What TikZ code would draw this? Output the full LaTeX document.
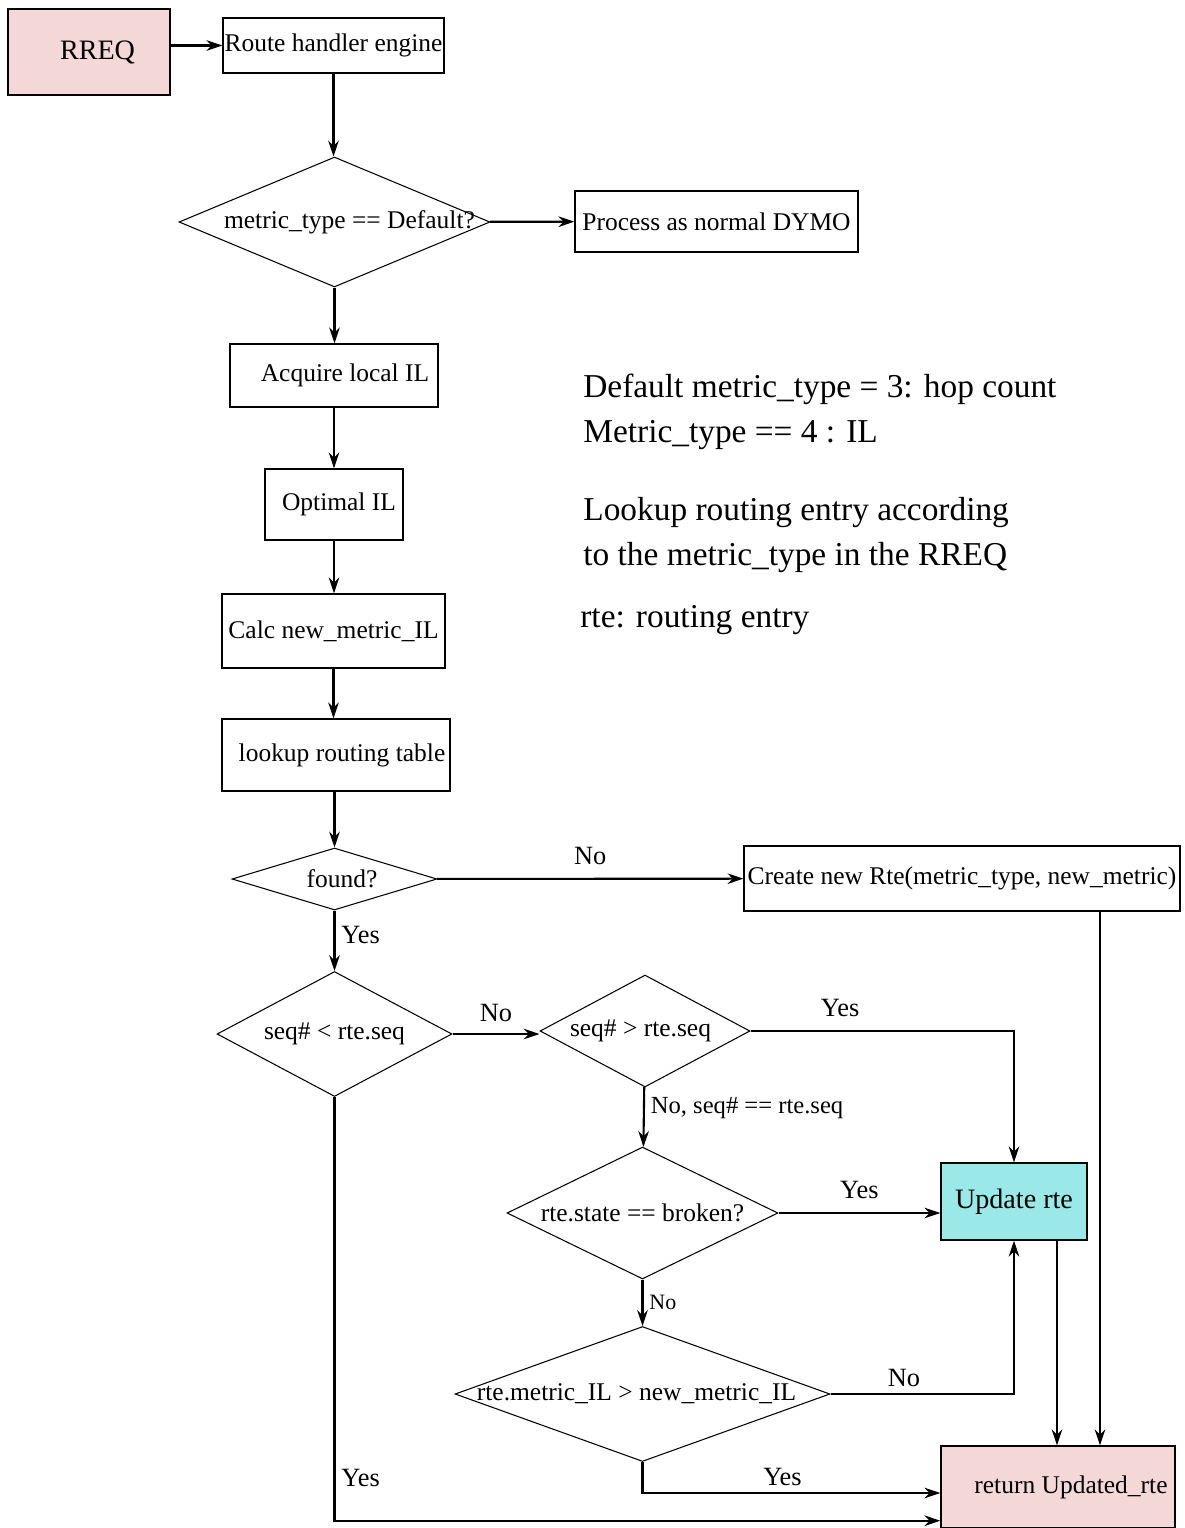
\documentclass[tikz,border=0pt]{standalone}
\usepackage{fontspec}
\setmainfont{Liberation Serif}
\usetikzlibrary{shapes.geometric,arrows.meta,calc}
\definecolor{retpink}{HTML}{F4D7D7}
\definecolor{updcyan}{HTML}{9BE8E8}

\begin{document}
\begin{tikzpicture}[x=0.02cm, y=-0.02cm, >={Stealth[length=9pt,width=6pt]},
    box/.style={draw, line width=0.8pt, inner sep=0pt, font=\fontsize{14.5}{17}\selectfont},
    dec/.style={draw, diamond, line width=0.6pt, inner sep=0pt, font=\fontsize{14.5}{17}\selectfont},
    flow/.style={->, line width=1.2pt},
    lbl/.style={font=\fontsize{15}{18}\selectfont},
    note/.style={anchor=west, inner sep=0pt, font=\fontsize{19}{23}\selectfont}]
        \useasboundingbox (0,0) rectangle (1184,1528);
        \node[box, fill=retpink, minimum width=3.24cm, minimum height=1.72cm, font=\fontsize{16}{19}\selectfont] (rreq) at (89,52) {\hspace*{0.34cm}RREQ};
        \node[box, minimum width=4.42cm, minimum height=1.10cm] (engine) at (333.5,45.5) {Route handler engine};
        \node[dec, minimum width=6.22cm, minimum height=2.60cm] (dtype) at (334.5,222) {\makebox[0pt]{\hspace*{0.6cm}metric\_type == Default?}};
        \node[box, minimum width=5.66cm, minimum height=1.22cm] (dymo) at (716.5,221.5) {Process as normal DYMO};
        \node[box, minimum width=4.16cm, minimum height=1.26cm] (acq) at (334,375.5) {\hspace*{0.44cm}Acquire local IL};
        \node[box, minimum width=2.76cm, minimum height=1.42cm] (opt) at (334,504.5) {\hspace*{0.2cm}Optimal IL};
        \node[box, minimum width=4.46cm, minimum height=1.48cm] (calc) at (333.5,631) {Calc new\_metric\_IL};
        \node[box, minimum width=4.56cm, minimum height=1.44cm] (look) at (336,755) {\hspace*{0.24cm}lookup routing table};
        \node[dec, minimum width=4.10cm, minimum height=1.24cm] (found) at (334.5,879) {\makebox[0pt]{\hspace*{0.3cm}found?}};
        \node[box, minimum width=8.72cm, minimum height=1.30cm] (create) at (962,878.5) {Create new Rte(metric\_type, new\_metric)};
        \node[dec, minimum width=4.70cm, minimum height=2.50cm] (dless) at (334.5,1034) {\makebox[0pt]{seq\# < rte.seq}};
        \node[dec, minimum width=4.20cm, minimum height=2.24cm] (dmore) at (645,1031) {\makebox[0pt]{seq\# > rte.seq\hspace*{0.18cm}}};
        \node[dec, minimum width=5.42cm, minimum height=2.64cm] (dbroken) at (642.5,1213) {\makebox[0pt]{rte.state == broken?}};
        \node[box, fill=updcyan, minimum width=2.92cm, minimum height=1.54cm, font=\fontsize{16}{19}\selectfont] (update) at (1014,1201.5) {Update rte};
        \node[dec, minimum width=7.50cm, minimum height=2.70cm] (dmetric) at (642.5,1394) {\makebox[0pt]{rte.metric\_IL > new\_metric\_IL\hspace*{0.24cm}}};
        \node[box, fill=retpink, minimum width=4.68cm, minimum height=1.64cm] (ret) at (1058,1487) {\hspace*{0.52cm}return Updated\_rte};

        \node[note] (n1) at (583,389) {Default metric\_type = 3: hop count};
        \node[note] (n2) at (583,435) {Metric\_type == 4 : IL};
        \node[note] (n3) at (583,513) {Lookup routing entry according};
        \node[note] (n4) at (583,558) {to the metric\_type in the RREQ};
        \node[note] (n5) at (580,620) {rte: routing entry};

        \draw[flow] (rreq.east |- engine) -- (engine);
        \draw[flow] (engine.south) -- (engine.south |- dtype.north);
        \draw[flow] (dtype) -- (dymo);
        \draw[flow] (dtype.south) -- (dtype.south |- acq.north);
        \draw[flow] (acq) -- (opt);
        \draw[flow] (opt.south) -- (opt.south |- calc.north);
        \draw[flow] (calc.south) -- (calc.south |- look.north);
        \draw[flow] (look.south -| found.north) -- (found.north);
        \draw[flow] (found) -- node[lbl, above=4pt]{No} (create);
        \draw[flow] (found) -- node[lbl, right, pos=0.4]{Yes} (dless);
        \draw[flow] (dless.east) -- node[lbl, above=3pt]{No} (dless.east -| dmore.west);
        \draw[flow] (dmore.east) -| node[lbl, pos=0.17, above=4pt]{Yes} (update.north);
        \draw[flow] (dmore) -- node[lbl, right, pos=0.35, font=\fontsize{14}{17}\selectfont]{No, seq\# == rte.seq} (dbroken);
        \draw[flow] (dbroken.east) -- node[lbl, above=4pt]{Yes} (dbroken.east -| update.west);
        \draw[flow] (dbroken) -- node[right, font=\fontsize{12.5}{15}\selectfont]{No} (dmetric);
        \draw[flow] (dmetric.east) -| node[lbl, pos=0.2, above]{No} (update.south);
        \draw[flow] (dmetric.south) |- node[lbl, pos=0.735, above]{Yes} ([yshift=-0.12cm]ret.west);
        \draw[flow] (dless.south) |- node[lbl, pos=0.45, right]{Yes} ([yshift=0.16cm]ret.south west);
        \draw[flow] ([xshift=0.86cm]update.south) -- ([xshift=0.86cm]update.south |- ret.north);
        \draw[flow] ([xshift=2.76cm]create.south) -- ([xshift=2.76cm]create.south |- ret.north);
      \end{tikzpicture}
\end{document}
